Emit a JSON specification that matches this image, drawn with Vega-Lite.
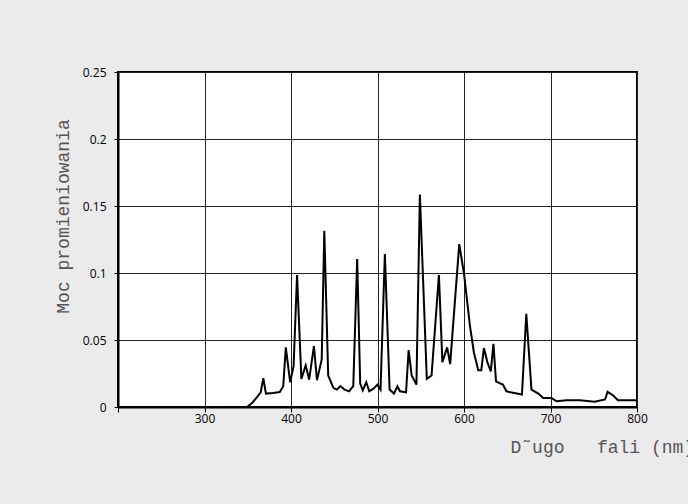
{
  "$schema": "https://vega.github.io/schema/vega-lite/v6.json",
  "width": 519,
  "height": 335,
  "autosize": {"type": "none"},
  "padding": {"left": 118, "top": 72, "right": 51, "bottom": 97},
  "background": "#ebebeb",
  "config": {
    "view": {"fill": "white", "stroke": "#000", "strokeWidth": 2},
    "axis": {
      "labelFont": "Open Sans",
      "labelFontSize": 12,
      "labelColor": "#000",
      "tickColor": "#000",
      "domainColor": "#000",
      "domainWidth": 2,
      "gridColor": "#222",
      "gridWidth": 1,
      "gridOpacity": 1,
      "titleFont": "Liberation Mono",
      "titleFontSize": 18,
      "titleFontWeight": "normal",
      "titleColor": "#555"
    }
  },
  "data": {
    "values": [
      {"nm": 200, "p": 0},
      {"nm": 349, "p": 0},
      {"nm": 355, "p": 0.003},
      {"nm": 360, "p": 0.0068},
      {"nm": 365, "p": 0.011},
      {"nm": 368, "p": 0.0215},
      {"nm": 371, "p": 0.01},
      {"nm": 379, "p": 0.0105},
      {"nm": 387, "p": 0.0112},
      {"nm": 391, "p": 0.0155},
      {"nm": 394, "p": 0.0445},
      {"nm": 399, "p": 0.0185},
      {"nm": 403, "p": 0.0305},
      {"nm": 407, "p": 0.0985},
      {"nm": 412, "p": 0.021},
      {"nm": 417, "p": 0.031},
      {"nm": 421, "p": 0.0205},
      {"nm": 426.5, "p": 0.0455},
      {"nm": 430, "p": 0.02},
      {"nm": 435.5, "p": 0.0355},
      {"nm": 438.5, "p": 0.1315},
      {"nm": 443, "p": 0.0235},
      {"nm": 449, "p": 0.0143},
      {"nm": 453, "p": 0.013},
      {"nm": 457, "p": 0.0156},
      {"nm": 462, "p": 0.013},
      {"nm": 467, "p": 0.0117},
      {"nm": 472, "p": 0.0156},
      {"nm": 476.5, "p": 0.1105},
      {"nm": 480, "p": 0.0175},
      {"nm": 483, "p": 0.0125},
      {"nm": 487, "p": 0.0185},
      {"nm": 490.5, "p": 0.0117},
      {"nm": 495, "p": 0.0135},
      {"nm": 500, "p": 0.0167},
      {"nm": 503.5, "p": 0.013},
      {"nm": 508.5, "p": 0.1142},
      {"nm": 514, "p": 0.013},
      {"nm": 519, "p": 0.01},
      {"nm": 523, "p": 0.0155},
      {"nm": 526, "p": 0.0117},
      {"nm": 533, "p": 0.011},
      {"nm": 536, "p": 0.0425},
      {"nm": 539.5, "p": 0.0235},
      {"nm": 545, "p": 0.0167},
      {"nm": 549, "p": 0.1585},
      {"nm": 557, "p": 0.021},
      {"nm": 562.5, "p": 0.0235},
      {"nm": 571, "p": 0.0985},
      {"nm": 575, "p": 0.0335},
      {"nm": 580.5, "p": 0.0445},
      {"nm": 584, "p": 0.032},
      {"nm": 594.5, "p": 0.1215},
      {"nm": 600, "p": 0.0995},
      {"nm": 607, "p": 0.06},
      {"nm": 611.5, "p": 0.0405},
      {"nm": 616.5, "p": 0.0275},
      {"nm": 620, "p": 0.0275},
      {"nm": 623, "p": 0.044},
      {"nm": 627, "p": 0.0335},
      {"nm": 631, "p": 0.0265},
      {"nm": 634, "p": 0.0472},
      {"nm": 637, "p": 0.0192},
      {"nm": 641.5, "p": 0.0177},
      {"nm": 645, "p": 0.0168},
      {"nm": 649, "p": 0.0117},
      {"nm": 667, "p": 0.0093},
      {"nm": 672, "p": 0.0695},
      {"nm": 678, "p": 0.013},
      {"nm": 686, "p": 0.01},
      {"nm": 691.5, "p": 0.0068},
      {"nm": 701, "p": 0.0068},
      {"nm": 707, "p": 0.0043},
      {"nm": 718.5, "p": 0.005},
      {"nm": 734, "p": 0.005},
      {"nm": 751, "p": 0.0039},
      {"nm": 763, "p": 0.0056},
      {"nm": 766, "p": 0.0113},
      {"nm": 772.5, "p": 0.0086},
      {"nm": 778, "p": 0.005},
      {"nm": 800, "p": 0.005}
    ]
  },
  "mark": {"type": "line", "color": "#000", "strokeWidth": 2, "clip": true},
  "encoding": {
    "x": {
      "field": "nm",
      "type": "quantitative",
      "scale": {"domain": [200, 800], "nice": false, "zero": false},
      "axis": {
        "values": [200, 300, 400, 500, 600, 700, 800],
        "labelExpr": "datum.value == 200 ? '' : datum.label",
        "tickSize": 5,
        "labelPadding": 1,
        "labelFlush": false,
        "title": "D˜ugo\u00a0\u00a0 fali (nm)",
        "titleX": 392,
        "titleY": 45,
        "titleAlign": "left",
        "titleBaseline": "alphabetic",
        "titleAnchor": null
      }
    },
    "y": {
      "field": "p",
      "type": "quantitative",
      "scale": {"domain": [0, 0.25], "nice": false},
      "axis": {
        "values": [0, 0.05, 0.1, 0.15, 0.2, 0.25],
        "labelExpr": "datum.value == 0 ? '0' : format(datum.value, '')",
        "tickSize": 4,
        "labelPadding": 8,
        "labelFlush": false,
        "title": "Moc promieniowania",
        "titleX": -50,
        "titleY": 144,
        "titleAngle": -90,
        "titleAlign": "center",
        "titleBaseline": "alphabetic"
      }
    }
  }
}
